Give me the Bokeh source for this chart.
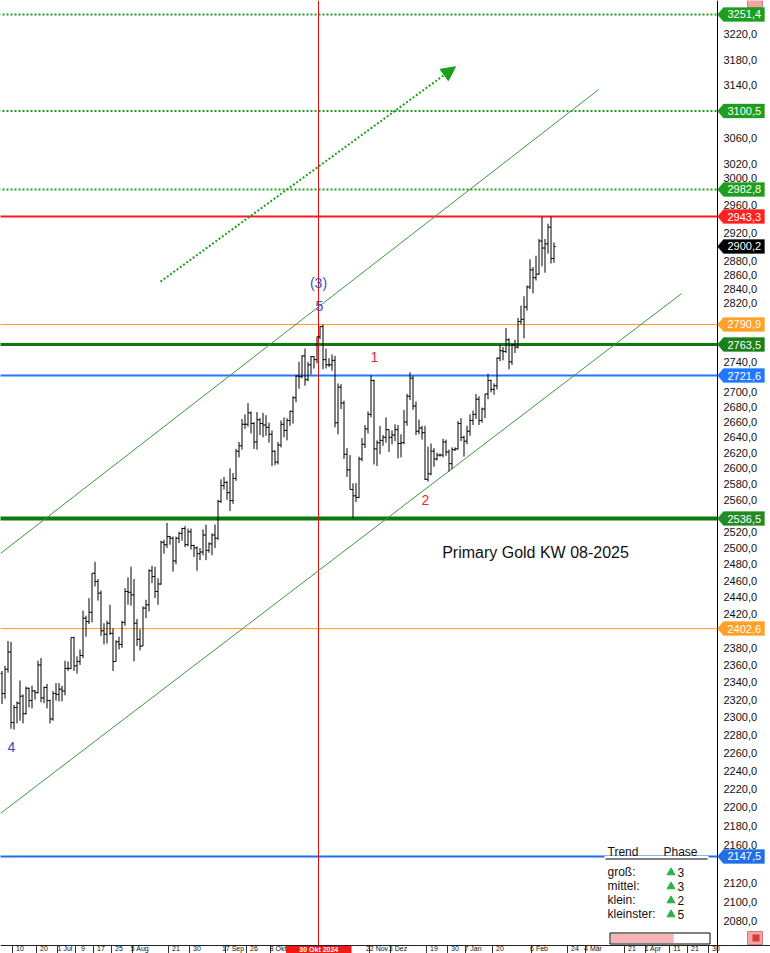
import numpy as np
import pandas as pd
from bokeh.plotting import figure
from bokeh.models import (Range1d, FixedTicker, CustomJSTickFormatter, Label, LogAxis, LinearAxis,
                          LogScale, Arrow, NormalHead, PolyAnnotation, ColumnDataSource)
from bokeh.embed import file_html
from bokeh.resources import INLINE

# ---------------- data ----------------
dates = pd.bdate_range("2024-06-04", "2025-02-17")

open_ = [
    # Jun
    2350, 2327, 2355, 2375, 2294, 2311, 2316, 2324, 2304, 2333, 2319, 2330, 2328, 2360, 2322, 2334, 2319, 2298, 2327,
    # Jul
    2326, 2332, 2330, 2356, 2356, 2392, 2359, 2364, 2371, 2415, 2411, 2422, 2469, 2459, 2445, 2400, 2396, 2409, 2397, 2364, 2387, 2384, 2410,
    # Aug
    2447, 2446, 2443, 2409, 2390, 2382, 2427, 2431, 2472, 2465, 2447, 2456, 2507, 2504, 2514, 2512, 2484, 2512, 2518, 2524, 2504, 2520,
    # Sep
    2503, 2500, 2493, 2495, 2516, 2497, 2505, 2516, 2512, 2558, 2578, 2582, 2569, 2559, 2587, 2622, 2629, 2657, 2657, 2672, 2658,
    # Oct
    2634, 2663, 2658, 2656, 2653, 2644, 2622, 2608, 2630, 2657, 2649, 2662, 2674, 2692, 2721, 2720, 2748, 2716, 2736, 2747, 2743, 2774, 2788,
    # Nov
    2743, 2736, 2736, 2742, 2659, 2706, 2685, 2618, 2598, 2573, 2565, 2563, 2612, 2631, 2651, 2670, 2715, 2625, 2633, 2636, 2640,
    # Dec
    2650, 2640, 2643, 2650, 2632, 2633, 2660, 2694, 2718, 2681, 2648, 2652, 2646, 2586, 2593, 2622, 2612, 2617, 2617, 2634, 2621, 2606,
    # Jan
    2624, 2625, 2658, 2640, 2635, 2648, 2662, 2670, 2690, 2662, 2677, 2697, 2715, 2703, 2708, 2745, 2755, 2754, 2770, 2740, 2763, 2760, 2795,
    # Feb
    2798, 2815, 2843, 2867, 2856, 2861, 2908, 2898, 2904, 2928, 2883,
]
high = [
    2353, 2359, 2388, 2387, 2314, 2318, 2342, 2326, 2335, 2334, 2336, 2331, 2365, 2368, 2335, 2338, 2320, 2330, 2339,
    2339, 2336, 2365, 2364, 2392, 2393, 2370, 2378, 2424, 2418, 2439, 2469, 2483, 2462, 2448, 2409, 2412, 2431, 2403, 2389, 2393, 2412, 2451,
    2464, 2477, 2462, 2414, 2402, 2429, 2437, 2474, 2478, 2477, 2463, 2509, 2510, 2531, 2515, 2514, 2514, 2520, 2525, 2527, 2524, 2524,
    2504, 2502, 2500, 2523, 2529, 2507, 2518, 2529, 2560, 2586, 2589, 2584, 2600, 2594, 2625, 2634, 2664, 2670, 2685, 2674, 2660,
    2673, 2665, 2672, 2669, 2659, 2649, 2623, 2634, 2662, 2666, 2665, 2675, 2694, 2722, 2740, 2749, 2758, 2740, 2748, 2748, 2774, 2789, 2790.9,
    2758, 2745, 2750, 2748, 2711, 2710, 2688, 2626, 2617, 2581, 2581, 2615, 2639, 2656, 2674, 2721.6, 2716, 2636, 2655, 2643, 2666,
    2650, 2649, 2657, 2656, 2644, 2676, 2697, 2726, 2721, 2687, 2663, 2655, 2655, 2628, 2632, 2626, 2620, 2619, 2638, 2637, 2624, 2627,
    2627, 2661, 2665, 2642, 2655, 2670, 2675, 2697, 2694, 2679, 2697, 2724, 2716, 2711, 2746, 2763, 2760, 2786, 2772, 2764, 2770, 2800, 2817,
    2830, 2845, 2882, 2871, 2887, 2911, 2942.7, 2911, 2933, 2943.3, 2906,
]
low = [
    2315, 2321, 2351, 2287, 2286, 2293, 2296, 2293, 2303, 2311, 2310, 2320, 2327, 2317, 2316, 2310, 2293, 2296, 2319,
    2318, 2318, 2325, 2353, 2355, 2353, 2350, 2360, 2368, 2393, 2408, 2410, 2453, 2436, 2394, 2384, 2385, 2395, 2353, 2364, 2378, 2380, 2406,
    2431, 2430, 2364, 2382, 2377, 2382, 2415, 2423, 2457, 2439, 2431, 2455, 2493, 2500, 2504, 2471, 2480, 2506, 2509, 2501, 2502, 2498,
    2489, 2472, 2485, 2491, 2485, 2494, 2491, 2500, 2510, 2556, 2573, 2560, 2546, 2555, 2584, 2614, 2624, 2651, 2654, 2645, 2625,
    2624, 2643, 2640, 2642, 2633, 2603, 2604, 2605, 2627, 2640, 2636, 2655, 2658, 2686, 2704, 2718, 2708, 2714, 2723, 2731, 2738, 2771, 2730,
    2731, 2733, 2728, 2653, 2644, 2677, 2612, 2589, 2573, 2536.5, 2557, 2562, 2609, 2626, 2645, 2666, 2605, 2603, 2618, 2629, 2633,
    2621, 2631, 2635, 2613, 2614, 2631, 2655, 2689, 2676, 2643, 2644, 2637, 2585, 2583, 2591, 2602, 2610, 2615, 2614, 2616, 2596, 2599,
    2622, 2624, 2635, 2615, 2631, 2642, 2656, 2664, 2656, 2659, 2665, 2690, 2699, 2696, 2703, 2741, 2742, 2752, 2730, 2736, 2752, 2758, 2791,
    2772, 2810, 2840, 2834, 2852, 2860, 2872, 2863, 2890, 2876, 2877,
]
close = [
    2327, 2355, 2375, 2294, 2311, 2316, 2324, 2304, 2333, 2319, 2330, 2328, 2360, 2322, 2334, 2319, 2298, 2327, 2326,
    2332, 2330, 2356, 2356, 2392, 2359, 2364, 2371, 2415, 2411, 2422, 2469, 2459, 2445, 2400, 2396, 2409, 2397, 2364, 2387, 2384, 2410, 2447,
    2446, 2443, 2409, 2390, 2382, 2427, 2431, 2472, 2465, 2447, 2456, 2507, 2504, 2514, 2512, 2484, 2512, 2518, 2524, 2504, 2520, 2503,
    2500, 2493, 2495, 2516, 2497, 2505, 2516, 2512, 2558, 2578, 2582, 2569, 2559, 2587, 2622, 2629, 2657, 2657, 2672, 2658, 2634,
    2663, 2658, 2656, 2653, 2644, 2622, 2608, 2630, 2657, 2649, 2662, 2674, 2692, 2721, 2720, 2748, 2716, 2736, 2747, 2743, 2774, 2788, 2743,
    2736, 2736, 2742, 2659, 2706, 2685, 2618, 2598, 2573, 2565, 2563, 2612, 2631, 2651, 2670, 2715, 2625, 2633, 2636, 2640, 2650,
    2640, 2643, 2650, 2632, 2633, 2660, 2694, 2718, 2681, 2648, 2652, 2646, 2586, 2593, 2622, 2612, 2617, 2617, 2634, 2621, 2606, 2624,
    2625, 2658, 2640, 2635, 2648, 2662, 2670, 2690, 2662, 2677, 2697, 2715, 2703, 2708, 2745, 2755, 2754, 2770, 2740, 2763, 2760, 2795, 2798,
    2815, 2843, 2867, 2856, 2861, 2908, 2898, 2904, 2928, 2883, 2900.2,
]

# horizontal levels
level_prices = [3251.4, 3100.5, 2982.8, 2943.3, 2790.9, 2763.5, 2721.6, 2536.5, 2402.6, 2147.5]
level_colors = ["#1E9E1E", "#1E9E1E", "#1E9E1E", "#FF1A1A", "#FF9A1E", "#0E7A0E", "#1F78FF", "#0A7A0A", "#FF9A1E", "#1F6FE8"]
level_widths = [2, 2, 2, 2, 1, 3, 2, 4, 1, 2]
level_dashes = ["2 2", "2 2", "2 2", "solid", "solid", "solid", "solid", "solid", "solid", "solid"]
badge_colors = ["#1E9E1E", "#1E9E1E", "#1E9E1E", "#FF2020", "#FFA028", "#1B7F1B", "#2277FF", "#248B24", "#FFA028", "#1E6FE8"]
last_price = 2900.2

axis_ticks = [2080, 2100, 2120, 2160, 2180, 2200, 2220, 2240, 2260, 2280, 2300, 2320, 2340, 2360, 2380,
              2420, 2440, 2460, 2480, 2500, 2520, 2560, 2580, 2600, 2620, 2640, 2660, 2680, 2700, 2740,
              2820, 2840, 2860, 2880, 2920, 2960, 3000, 3020, 3060, 3140, 3180, 3220]

# date axis (bar index of separators and their labels)
date_sep_k = [4, 12, 19, 25, 31, 37, 44, 56, 63, 75, 82, 90, 123, 130, 142, 149, 155, 164, 177, 189,
              195, 208, 215, 223, 229, 236]
date_labels = ["10", "20", "1 Jul", "9", "17", "25", "5 Aug", "21", "30", "17 Sep", "26", "8 Okt",
               "22 Nov", "3 Dez", "19", "30", "7 Jan", "20", "6 Feb", "24", "4 Mär", "21", "1 Apr",
               "11", "21", "30"]
crosshair_date = "2024-10-30"
crosshair_label = "30 Okt 2024"

# trend channel anchors (bar index, price)
channel_upper_k = [-0.5, 198.83]
channel_upper_p = [2493.2, 3133.1]
channel_lower_k = [-0.5, 226.5]
channel_lower_p = [2193.6, 2833.7]
projection_k = [52.83, 151.17]
projection_p = [2850.4, 3168.7]

trend_rows = ["groß:", "mittel:", "klein:", "kleinster:"]
phase_values = ["3", "3", "2", "5"]
progress_fraction = 0.64

# ---------------- figure ----------------
W, H = 770, 953
X0 = -0.5
Y0, Y1 = 2047.3, 3273.8
FONT = "Liberation Sans"


def k_at(px):
    return (px - 1.5) / 3


def price_at(py):
    return float(np.exp(np.log(Y1) - py / H * np.log(Y1 / Y0)))


def py_of(price):
    return H * (np.log(Y1) - np.log(price)) / np.log(Y1 / Y0)


p = figure(width=W, height=H, x_range=Range1d(X0, X0 + W / 3), y_range=Range1d(Y0, Y1),
           y_axis_type="log", x_axis_location=None, y_axis_location=None,
           output_backend="svg", toolbar_location=None, min_border=0,
           min_border_left=0, min_border_right=0, min_border_top=0, min_border_bottom=0)
p.y_scale = LogScale()
p.grid.visible = False
p.outline_line_color = None
p.background_fill_color = "white"
p.border_fill_color = "white"

AXIS_K = k_at(717)

# price axis (right side, pinned at the chart's right edge)
yax = LogAxis(fixed_location=AXIS_K)
yax.ticker = FixedTicker(ticks=axis_ticks, minor_ticks=[])
yax.formatter = CustomJSTickFormatter(code="return tick.toFixed(1).replace('.', ',');")
yax.major_tick_out = 0
yax.major_tick_in = 0
yax.minor_tick_out = 0
yax.minor_tick_in = 0
yax.major_label_standoff = 6
yax.axis_line_color = "black"
yax.major_label_text_font = FONT
yax.major_label_text_font_size = "11px"
yax.major_label_text_color = "#111111"
p.add_layout(yax, "right")

# date strip at the bottom
STRIP_Y = 944.5
STRIP_P = price_at(STRIP_Y)
crosshair_k = dates.get_loc(pd.Timestamp(crosshair_date))
p.quad(left=[crosshair_k - 11.3], right=[crosshair_k + 10.5], top=[price_at(945)], bottom=[price_at(960)],
       fill_color="#F21818", line_color=None)

sep_axis = LinearAxis(fixed_location=STRIP_P)
sep_axis.ticker = FixedTicker(ticks=[k - 0.5 for k in date_sep_k], minor_ticks=[])
sep_axis.formatter = CustomJSTickFormatter(code="return '';")
sep_axis.major_tick_out = 9
sep_axis.major_tick_in = 0
sep_axis.minor_tick_out = 0
sep_axis.minor_tick_in = 0
sep_axis.major_tick_line_color = "#333333"
sep_axis.axis_line_color = "#222222"
sep_axis.major_label_text_font_size = "1px"
p.add_layout(sep_axis, "below")

lab_axis = LinearAxis(fixed_location=STRIP_P)
lab_axis.ticker = FixedTicker(ticks=[k + 2 for k in date_sep_k], minor_ticks=[])
lab_axis.major_label_overrides = {k + 2: t for k, t in zip(date_sep_k, date_labels)}
lab_axis.major_tick_out = 0
lab_axis.major_tick_in = 0
lab_axis.minor_tick_out = 0
lab_axis.minor_tick_in = 0
lab_axis.axis_line_color = None
lab_axis.major_label_standoff = 0
lab_axis.major_label_text_font = FONT
lab_axis.major_label_text_font_size = "7px"
lab_axis.major_label_text_color = "#111111"
p.add_layout(lab_axis, "below")

p.add_layout(Label(x=crosshair_k - 0.4, y=price_at(945), text=crosshair_label, text_color="white",
                   text_font=FONT, text_font_size="7px", text_font_style="bold",
                   text_align="center", text_baseline="top"))

# horizontal levels, ending at the price axis
K_LEFT = k_at(-2)
for pr, col, w, d in zip(level_prices, level_colors, level_widths, level_dashes):
    p.segment(x0=[K_LEFT], y0=[pr], x1=[AXIS_K], y1=[pr], line_color=col, line_width=w, line_dash=d)

# crosshair
p.segment(x0=[crosshair_k - 0.5], y0=[Y1], x1=[crosshair_k - 0.5], y1=[STRIP_P],
          line_color="#E01010", line_width=1)

# trend channel
p.line(channel_upper_k, channel_upper_p, line_color="#3A9A3A", line_width=1)
p.line(channel_lower_k, channel_lower_p, line_color="#3A9A3A", line_width=1)

# OHLC bars
idx = np.arange(len(close))
src = ColumnDataSource(dict(k=idx, kl=idx - 0.55, kr=idx + 0.55, o=open_, h=high, l=low, c=close))
p.segment(x0="k", y0="l", x1="k", y1="h", source=src, line_color="black", line_width=1)
p.segment(x0="kl", y0="o", x1="k", y1="o", source=src, line_color="black", line_width=1)
p.segment(x0="k", y0="c", x1="kr", y1="c", source=src, line_color="black", line_width=1)

# projection arrow
p.add_layout(Arrow(end=NormalHead(size=14, fill_color="#1AA01A", line_color="#1AA01A"),
                   x_start=projection_k[0], y_start=projection_p[0],
                   x_end=projection_k[1], y_end=projection_p[1],
                   line_color="#1AA01A", line_width=2, line_dash="2 2"))


def lab(px, py, text, color, size="14px", align="center"):
    p.add_layout(Label(x=k_at(px), y=price_at(py), text=text, text_color=color, text_font=FONT,
                       text_font_size=size, text_align=align, text_baseline="middle"))


# wave labels and title
lab(318, 282, "(3)", "#4848C0")
lab(319, 305, "5", "#4848C0")
lab(374, 356, "1", "#E8283C")
lab(425, 499, "2", "#E8283C")
lab(11, 746, "4", "#2F4FC0")
lab(535, 552, "Primary Gold KW 08-2025", "#111111", size="16px")

# price badges on the axis
badge_list = list(zip(level_prices, badge_colors)) + [(last_price, "#000000")]
for pr, col in badge_list:
    yc = py_of(pr)
    xs = [k_at(717), k_at(723), k_at(764), k_at(764), k_at(723)]
    ys = [price_at(yc), price_at(yc - 7), price_at(yc - 7), price_at(yc + 7), price_at(yc + 7)]
    p.add_layout(PolyAnnotation(xs=xs, ys=ys, fill_color=col, fill_alpha=1.0, line_color=col, line_width=1))
    p.add_layout(Label(x=k_at(727), y=pr, text=f"{pr:.1f}".replace(".", ","), text_color="white",
                       text_font=FONT, text_font_size="11px", text_align="left", text_baseline="middle"))

# small toolbar buttons at the right edge (top and bottom)
p.quad(left=[k_at(747)], right=[k_at(762)], top=[price_at(-2)], bottom=[price_at(7)],
       fill_color="#F2A5A5", line_color="#D08080")
p.quad(left=[k_at(747)], right=[k_at(762)], top=[price_at(931)], bottom=[price_at(944)],
       fill_color="#F2A5A5", line_color="#D08080")
p.quad(left=[k_at(752)], right=[k_at(759)], top=[price_at(934)], bottom=[price_at(941)],
       fill_color="#D83A3A", line_color=None)

# trend / phase table
p.quad(left=[k_at(604)], right=[k_at(708)], top=[price_at(855.5)], bottom=[price_at(930)],
       fill_color="white", line_color=None)
lab(607, 851, "Trend", "#111111", size="12px", align="left")
lab(663, 851, "Phase", "#111111", size="12px", align="left")
p.segment(x0=[k_at(605)], y0=[price_at(858.5)], x1=[k_at(707)], y1=[price_at(858.5)],
          line_color="black", line_width=1)
row_y = [871.5, 885.5, 899.5, 913.5]
for yy, name, ph in zip(row_y, trend_rows, phase_values):
    lab(607, yy, name, "#111111", size="12px", align="left")
    lab(677, yy, ph, "#111111", size="12px", align="left")
p.scatter(x=[k_at(670.5)] * 4, y=[price_at(yy + 0.5) for yy in row_y], marker="triangle", size=8,
          fill_color="#2DB04C", line_color="#2DB04C")

bar_l, bar_r = 609.5, 709.5
p.quad(left=[k_at(bar_l)], right=[k_at(bar_r)], top=[price_at(932.5)], bottom=[price_at(943.5)],
       fill_color="white", line_color="black", line_width=1)
p.quad(left=[k_at(bar_l + 1)], right=[k_at(bar_l + 1 + (bar_r - bar_l - 2) * progress_fraction)],
       top=[price_at(933.5)], bottom=[price_at(942.5)], fill_color="#F4B5B8", line_color=None)

open("out.html", "w").write(file_html(p, INLINE))
